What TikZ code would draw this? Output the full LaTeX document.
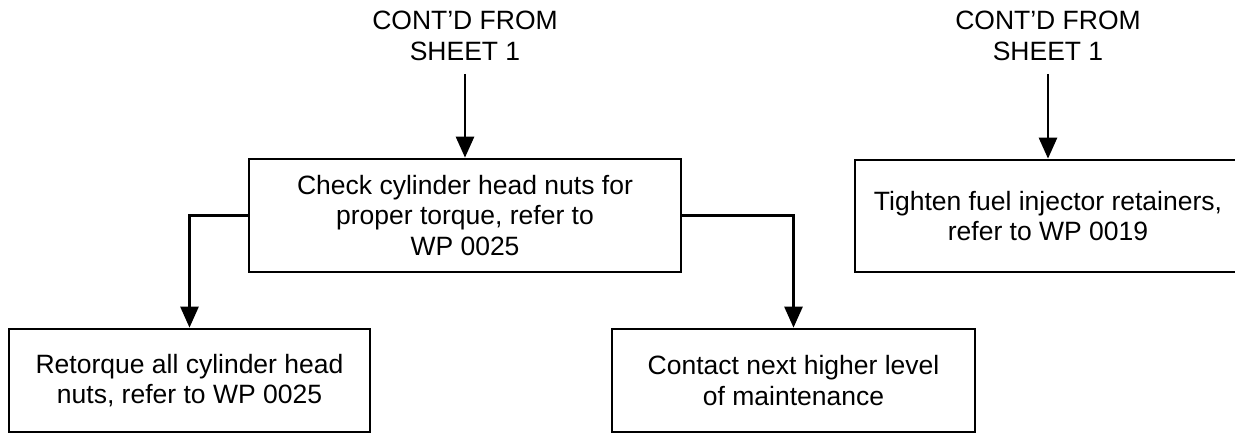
\documentclass[tikz,border=0pt]{standalone}
\usepackage{fontspec}
\setmainfont{Liberation Sans}
\usetikzlibrary{arrows.meta}
\begin{document}
\begin{tikzpicture}[x=1pt,y=-1pt,
  every node/.style={font=\fontsize{26.5}{30.5}\selectfont, align=center},
  box/.style={draw, line width=2.7pt, inner sep=0pt},
  cont/.style={inner sep=0pt},
  arr/.style={line width=2.7pt, -{Triangle[width=18pt,length=21pt]}}
]
\useasboundingbox (0,0) rectangle (1235,434);
\clip (0,0) rectangle (1235,434);
\fill[white] (0,0) rectangle (1235,434);

\node[cont] (c1) at (465,36) {CONT’D FROM\\SHEET 1};
\node[cont] (c2) at (1048,36) {CONT’D FROM\\SHEET 1};

\node[box, minimum width=432pt, minimum height=113pt] (chk) at (465,215.5)
  {Check cylinder head nuts for\\proper torque, refer to\\WP 0025};
\node[box, minimum width=386pt, minimum height=112pt] (tgt) at (1048,216)
  {Tighten fuel injector retainers,\\refer to WP 0019};
\node[box, minimum width=361pt, minimum height=103pt] (ret) at (189.5,380.5)
  {Retorque all cylinder head\\nuts, refer to WP 0025};
\node[box, minimum width=363pt, minimum height=103pt] (cnt) at (793.5,380.5)
  {Contact next higher level\\of maintenance};

\draw[arr] (c1.south) ++(0,13) coordinate (a1) -- (chk.north);
\draw[arr] (c2.south) ++(0,13) coordinate (a2) -- (tgt.north);
\draw[arr] (chk.west) -| (ret.north);
\draw[arr] (chk.east) -| (cnt.north);
\end{tikzpicture}
\end{document}
